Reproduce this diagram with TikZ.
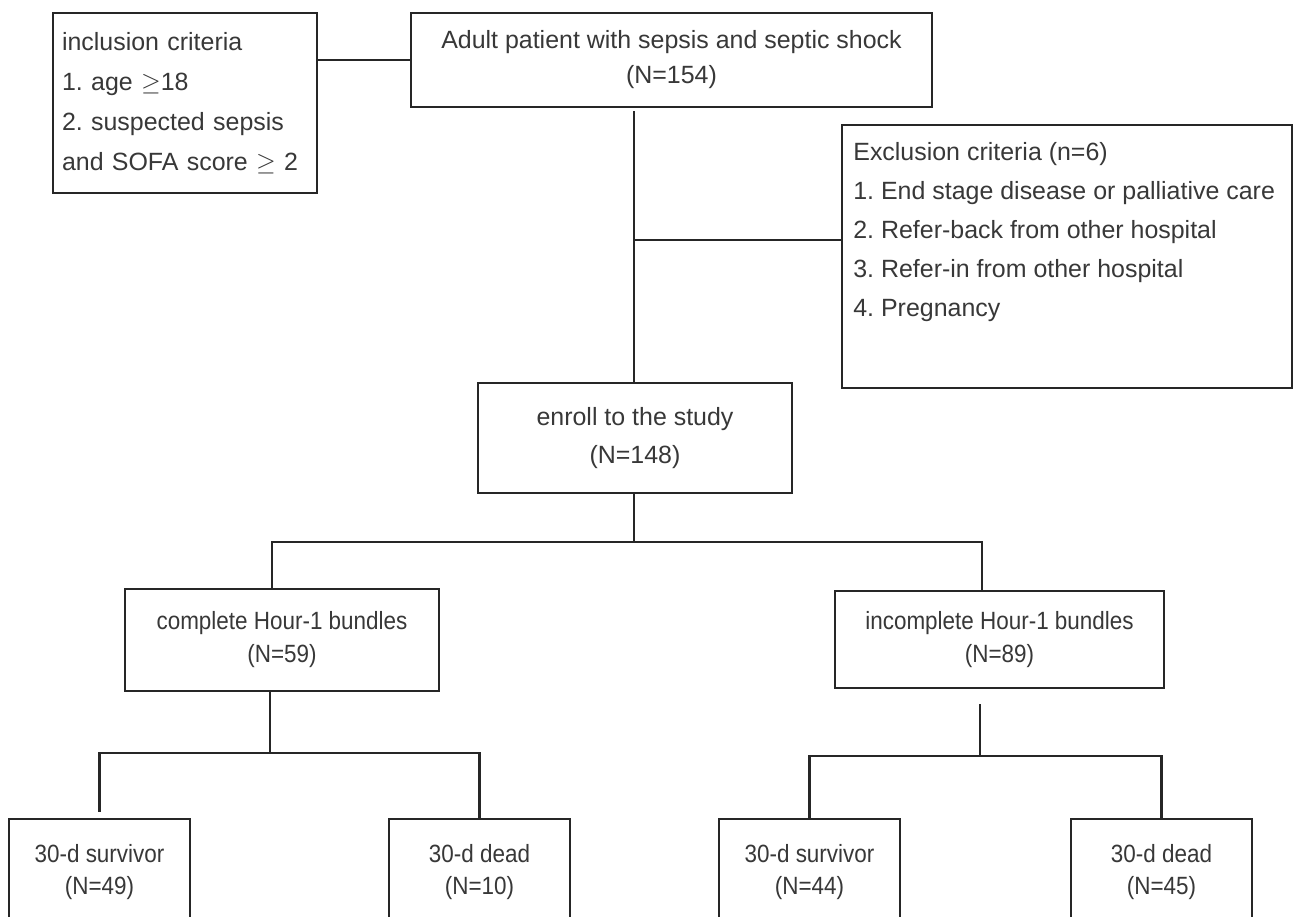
\documentclass[tikz,border=0pt]{standalone}
\usepackage{fontspec}
\setmainfont{Liberation Sans}
\newfontfamily\lowfont[FakeStretch=0.9]{Liberation Sans}
\usetikzlibrary{calc}
\frenchspacing
\begin{document}
\begin{tikzpicture}[x=0.02cm,y=-0.02cm,
  box/.style={draw=black!85, line width=1.4pt, text=black!78, inner sep=0pt},
  sz/.style 2 args={minimum width=#1*0.02cm, minimum height=#2*0.02cm},
  upfont/.style={font=\frenchspacing\fontsize{14.2}{#1}\selectfont},
  lowfont/.style={font=\lowfont\frenchspacing\fontsize{14.2}{#1}\selectfont},
  link/.style={draw=black!85, line width=1.4pt, line join=miter}]
\useasboundingbox (0,0) rectangle (1294,916);
\fill[white] (0,0) rectangle (1294,916);
\clip (0,0) rectangle (1294,916);

% boxes
\node[box, sz={264}{180}, upfont={22.8}, align=left, text width=4.92cm, inner xsep=0.18cm] (incl) at (185,103)
  {inclusion criteria\\1. age $\geq$18\\2. suspected sepsis\\and SOFA score $\geq$ 2};
\node[box, sz={521}{94}, upfont={19.9}, align=center] (top) at (671.5,60)
  {Adult patient with sepsis and septic shock\\(N=154)};
\node[box, sz={450}{263}] (excl) at (1067,256.5) {};
\node[upfont={22.2}, text=black!78, align=left, anchor=west, inner sep=0pt] (excltext) at (853,232)
  {Exclusion criteria (n=6)\\1. End stage disease or palliative care\\2. Refer-back from other hospital\\3. Refer-in from other hospital\\4. Pregnancy};
\node[box, sz={314}{110}, upfont={21.6}, align=center] (enroll) at (635,438)
  {enroll to the study\\(N=148)};
\node[box, sz={314}{102}, lowfont={18.8}, align=center] (comp) at (282,640)
  {complete Hour-1 bundles\\(N=59)};
\node[box, sz={329}{97}, lowfont={19.3}, align=center] (incomp) at (999.5,639.5)
  {incomplete Hour-1 bundles\\(N=89)};
\node[box, sz={181}{106}, lowfont={18.2}, align=center] (surv1) at (99.5,872) {30-d survivor\\(N=49)};
\node[box, sz={181}{106}, lowfont={18.2}, align=center] (dead1) at (479.5,872) {30-d dead\\(N=10)};
\node[box, sz={181}{106}, lowfont={18.2}, align=center] (surv2) at (809.5,872) {30-d survivor\\(N=44)};
\node[box, sz={181}{106}, lowfont={18.2}, align=center] (dead2) at (1161.5,872) {30-d dead\\(N=45)};

% junctions
\coordinate (jE) at (634,240);
\coordinate (jL) at (272,542);
\coordinate (jR) at (982,542);
\coordinate (jc) at (270,753);
\coordinate (ji) at (980,756);

% connectors
\draw[link] (top.west -| incl.east) -- (top.west);
\draw[link, shorten <=0.06cm] (top.south -| jE) -- (jE |- enroll.north);
\draw[link] (jE) -- (jE -| excl.west);
\draw[link] (enroll.south -| jE) -- (jE |- jL);
\draw[link] (jL |- comp.north) -- (jL) -- (jR) -- (jR |- incomp.north);
\draw[link] (comp.south -| jc) -- (jc);
\draw[link, shorten <=0.12cm] (surv1.north) -- (surv1.north |- jc) -- (dead1.north |- jc) -- (dead1.north);
\draw[link, shorten <=0.3cm] (incomp.south -| ji) -- (ji);
\draw[link] (surv2.north) -- (surv2.north |- ji) -- (dead2.north |- ji) -- (dead2.north);
\end{tikzpicture}
\end{document}
